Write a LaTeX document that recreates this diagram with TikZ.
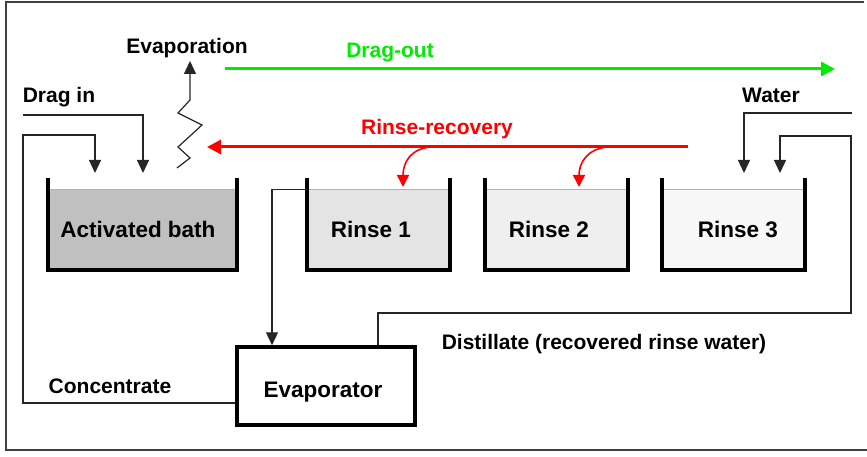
\documentclass[tikz,border=0pt]{standalone}
\usepackage{fontspec}
\setmainfont{Liberation Sans}
\usetikzlibrary{arrows.meta}
\definecolor{dragout}{RGB}{0,235,0}
\definecolor{recov}{RGB}{255,0,0}
\definecolor{bathfill}{RGB}{192,192,192}
\definecolor{rinseA}{RGB}{228,228,228}
\definecolor{rinseB}{RGB}{239,239,239}
\definecolor{rinseC}{RGB}{247,247,247}
\begin{document}
\begin{tikzpicture}[x=1pt,y=-1pt,
  lbl/.style={font=\fontsize{21}{24}\selectfont\bfseries, inner sep=0pt, anchor=base},
  tanklbl/.style={font=\fontsize{22.5}{26}\selectfont\bfseries, inner sep=0pt, anchor=base},
  tankbox/.style={inner sep=0pt, minimum height=80pt},
  level/.style={draw=black!30, line width=0.8pt},
  wall/.style={line width=4pt, line join=miter, line cap=rect},
  pipe/.style={draw=black!85, line width=1.2pt},
  flow/.style={pipe, -{Triangle[length=13pt,width=12pt]}},
  bigflow/.style={line width=3pt, -{Triangle[length=14pt,width=14pt]}},
  branch/.style={draw=recov, line width=1.6pt, -{Triangle[length=12pt,width=12pt]}}]
\useasboundingbox (0,0) rectangle (867,457);

% outer frame
\draw[black!75, line width=1.4pt] (864,2) -- (6,2) -- (6,450) -- (867,450);

% tanks: liquid body, liquid level and thick walls
\node[tankbox, fill=bathfill, minimum width=189pt] (bath) at (142.5,230) {};
\node[tankbox, fill=rinseA, minimum width=143pt] (r1) at (378.5,230) {};
\node[tankbox, fill=rinseB, minimum width=143pt] (r2) at (556.5,230) {};
\node[tankbox, fill=rinseC, minimum width=143pt] (r3) at (733.5,230) {};
\foreach \t in {bath,r1,r2,r3}{
  \draw[level] (\t.north west) -- (\t.north east);
  \draw[wall] ([yshift=10pt]\t.north west) -- (\t.south west) -- (\t.south east) -- ([yshift=10pt]\t.north east);
}
\node[tanklbl] (bathlbl) at (138,237) {Activated bath};
\node[tanklbl] (r1lbl) at (371,237) {Rinse 1};
\node[tanklbl] (r2lbl) at (549,237) {Rinse 2};
\node[tanklbl] (r3lbl) at (738,237) {Rinse 3};

% evaporator
\node[draw, line width=3.5pt, minimum width=178pt, minimum height=78pt, inner sep=0pt] (evap) at (326,386) {};
\node[tanklbl] (evaplbl) at (323,397) {Evaporator};

% labels
\node[lbl] (evaptxt) at (187,54) {Evaporation};
\node[lbl, text=dragout] (dragtxt) at (390,58) {Drag-out};
\node[lbl] (dragin) at (59,103) {Drag in};
\node[lbl, text=recov] (rectxt) at (437,135) {Rinse-recovery};
\node[lbl] (watertxt) at (771,103) {Water};
\node[lbl] (conctxt) at (110,393) {Concentrate};
\node[lbl] (disttxt) at (604,349) {Distillate (recovered rinse water)};

% drag-out and rinse-recovery streams
\coordinate (dgA) at (225,69);
\coordinate (dgB) at (835,69);
\draw[bigflow, dragout] (dgA) -- (dgB);
\coordinate (rcA) at (688,147);
\coordinate (rcB) at (207,147);
\draw[bigflow, recov] (rcA) -- (rcB);
\coordinate (b1) at (430,147);
\coordinate (b2) at (607,147);
\draw[branch] (b1) .. controls (411,149) and (403,162) .. (403,187);
\draw[branch] (b2) .. controls (588,149) and (579,162) .. (579,187);

% evaporation zigzag
\coordinate (zz) at (177,168);
\coordinate (zt) at (190,61);
\draw[black!85, line width=1.2pt, -{Triangle[length=13pt,width=12pt]}]
  (zz) -- (190,158) -- (178,147) -- (202,125) -- (178,113) -- (190,100) -- (190,90) -- (zt);

% drag in
\coordinate (di) at (23,115);
\draw[flow] (di) -| (143,173);

% concentrate back to the bath
\draw[flow] (evap.west |- 0,403) -| (23,135) -| (95,173);

% rinse 1 to the evaporator
\draw[flow] (r1.north west) -| (272,0 |- evap.north);

% distillate back to rinse 3
\draw[flow] (378,0 |- evap.north) |- (851,313) |- (780,136) -- (780,173);

% fresh water into rinse 3
\coordinate (wi) at (852,113);
\draw[flow] (wi) -| (744,173);
\end{tikzpicture}
\end{document}
